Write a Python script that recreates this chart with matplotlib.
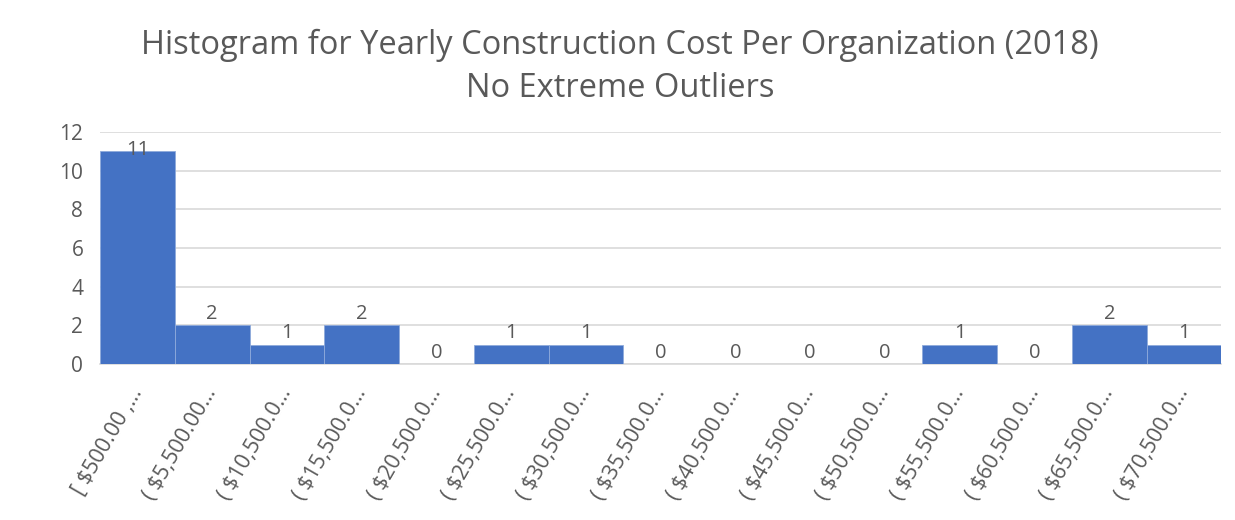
import matplotlib.pyplot as plt

# Bin labels (Excel-style truncated ranges) and counts per bin
bins = ["[ $500.00 ,…", "( $5,500.00…", "( $10,500.0…", "( $15,500.0…",
        "( $20,500.0…", "( $25,500.0…", "( $30,500.0…", "( $35,500.0…",
        "( $40,500.0…", "( $45,500.0…", "( $50,500.0…", "( $55,500.0…",
        "( $60,500.0…", "( $65,500.0…", "( $70,500.0…"]
counts = [11, 2, 1, 2, 0, 1, 1, 0, 0, 0, 0, 1, 0, 2, 1]

plt.rcParams['font.family'] = ['Open Sans', 'DejaVu Sans']
grey = "#595959"

fig = plt.figure(figsize=(12.35, 5.2), dpi=100)
ax = fig.add_axes([0.081, 0.30, 0.908, 0.446])

x = list(range(len(bins)))
ax.bar(x, counts, width=1.0, color="#4472C4", edgecolor="#8eaadb", linewidth=0.6, zorder=3)

for xi, c in zip(x, counts):
    # the tallest label is pushed down onto its bar, as it would hit the top
    off = -6 if c >= 11 else 1
    ax.annotate(str(c), (xi, c), xytext=(0, off), textcoords="offset points",
                ha="center", va="bottom", fontsize=14.5, color=grey, zorder=4)

ax.set_xlim(-0.5, len(bins) - 0.5)
ax.set_ylim(0, 12)
ax.set_yticks(range(0, 13, 2))
ax.yaxis.grid(True, color="#d9d9d9", linewidth=1.2, zorder=0)
ax.set_axisbelow(True)

ax.set_xticks(x)
ax.set_xticklabels(bins, rotation=60, ha="right", va="center",
                   rotation_mode="anchor", fontsize=15.5, color=grey)
ax.tick_params(axis="x", length=0, pad=18)
ax.tick_params(axis="y", length=0, labelsize=15, labelcolor=grey, pad=12)

for side in ["top", "right", "left"]:
    ax.spines[side].set_visible(False)
ax.spines["bottom"].set_color("#d9d9d9")
ax.spines["bottom"].set_linewidth(1.2)

fig.text(0.502, 0.945, "Histogram for Yearly Construction Cost Per Organization (2018)\nNo Extreme Outliers",
         ha="center", va="top", fontsize=23.5, color=grey, linespacing=1.4)

fig.savefig("out.png", dpi=100)
